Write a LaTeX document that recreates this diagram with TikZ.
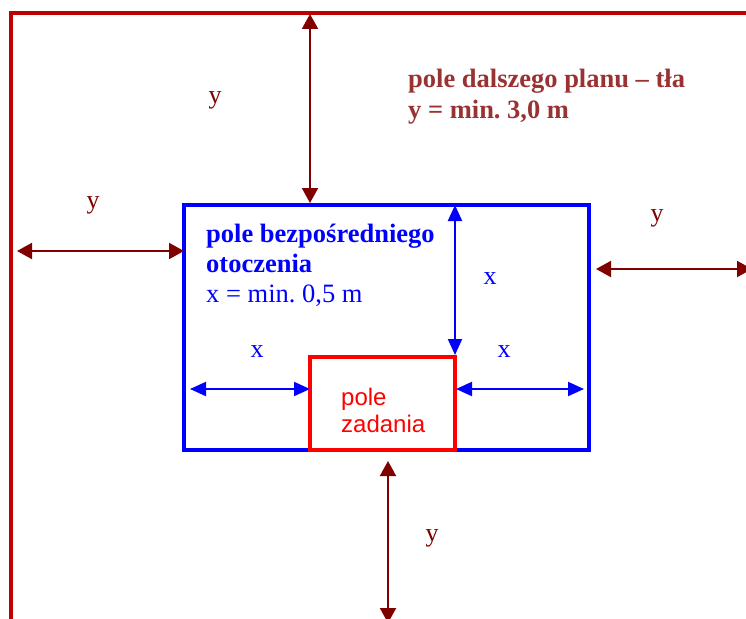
\documentclass[tikz,border=0pt]{standalone}
\usepackage{fontspec}
\setmainfont{Liberation Serif}
\newfontfamily\arialfont{Liberation Sans}
\usetikzlibrary{arrows.meta}
\frenchspacing
\definecolor{framered}{HTML}{C00000}
\definecolor{darkred}{HTML}{800000}
\definecolor{brownred}{HTML}{993333}
\definecolor{pureblue}{HTML}{0000FF}
\definecolor{purered}{HTML}{FF0000}
\tikzset{
  yarrow/.style={draw=darkred, line width=2pt, {Triangle[length=15pt,width=16pt]}-{Triangle[length=15pt,width=16pt]}},
  xarrow/.style={draw=pureblue, line width=2pt, {Triangle[length=16pt,width=14pt]}-{Triangle[length=16pt,width=14pt]}},
  ylabel/.style={text=darkred, font=\fontsize{26}{30}\selectfont, inner sep=0pt},
  xlabel/.style={text=pureblue, font=\fontsize{26}{30}\selectfont, inner sep=0pt},
  txt/.style={inner sep=0pt, anchor=base west},
}
\begin{document}
\begin{tikzpicture}[x=1pt,y=-1pt]
\clip (0,0) rectangle (746,618);
% outer frame
\coordinate (fb) at (11,640);
\coordinate (fc) at (11,13);
\coordinate (fr) at (770,13);
\draw[framered, line width=4pt] (fb) -- (fc) -- (fr);
% blue box
\node[draw=pureblue, line width=4pt, minimum width=405pt, minimum height=245pt, inner sep=0pt, outer sep=0pt, anchor=north west] (blue) at (184,205) {};
% red box
\node[draw=purered, line width=4pt, minimum width=145pt, minimum height=93pt, inner sep=0pt, outer sep=0pt, anchor=north west] (red) at (310,357) {};
% texts
\node[txt, text=brownred, font=\fontsize{26.5}{30}\selectfont\bfseries] (t1) at (408,87) {pole dalszego planu – tła};
\node[txt, text=brownred, font=\fontsize{26.5}{30}\selectfont\bfseries] (t2) at (408,118) {y = min. 3,0 m};
\node[txt, text=pureblue, font=\fontsize{26.5}{30}\selectfont\bfseries] (b1) at (206,242) {pole bezpośredniego};
\node[txt, text=pureblue, font=\fontsize{26.5}{30}\selectfont\bfseries] (b2) at (206,272) {otoczenia};
\node[txt, text=pureblue, font=\fontsize{26.5}{30}\selectfont] (b3) at (206,302) {x = min. 0,5 m};
\node[txt, text=purered, font=\arialfont\fontsize{24}{27}\selectfont] (r1) at (341,405) {pole};
\node[txt, text=purered, font=\arialfont\fontsize{24}{27}\selectfont] (r2) at (341,432) {zadania};
% y arrows
\coordinate (topA) at (310,14);
\coordinate (topB) at (310,203);
\draw[yarrow] (topA) -- (topB);
\node[ylabel] (ly1) at (215,100) {y};
\coordinate (leftA) at (17,251);
\coordinate (leftB) at (184,251);
\draw[yarrow] (leftA) -- (leftB);
\node[ylabel] (ly2) at (93,205) {y};
\coordinate (rightA) at (596,269);
\coordinate (rightB) at (752,269);
\draw[yarrow] (rightA) -- (rightB);
\node[ylabel] (ly3) at (657,218) {y};
\coordinate (botA) at (388,461);
\coordinate (botB) at (388,623);
\draw[yarrow] (botA) -- (botB);
\node[ylabel] (ly4) at (432,538) {y};
% x arrows
\coordinate (vA) at (455,205);
\coordinate (vB) at (455,355);
\draw[xarrow] (vA) -- (vB);
\node[xlabel] (lx1) at (490,279) {x};
\coordinate (hlA) at (190,389);
\coordinate (hlB) at (310,389);
\draw[xarrow] (hlA) -- (hlB);
\node[xlabel] (lx2) at (257,352) {x};
\coordinate (hrA) at (456,389);
\coordinate (hrB) at (584,389);
\draw[xarrow] (hrA) -- (hrB);
\node[xlabel] (lx3) at (504,352) {x};
\end{tikzpicture}
\end{document}
